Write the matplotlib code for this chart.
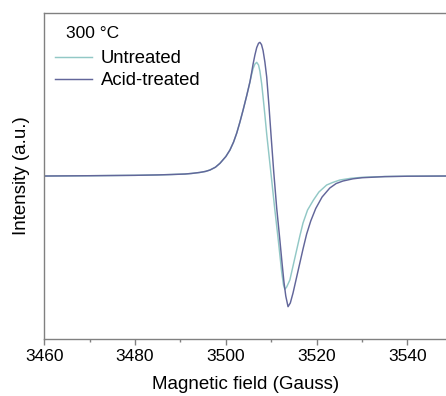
import matplotlib
matplotlib.use("Agg")
import matplotlib.pyplot as plt
from matplotlib.ticker import MultipleLocator

plt.rcParams["font.family"] = ["Liberation Sans", "DejaVu Sans"]

# field (Gauss) and intensity (a.u.)
field_untreated = [3460, 3470, 3480, 3485, 3488, 3491, 3492.5, 3494.3, 3495.5, 3496.5,
                   3497.7, 3498.7, 3500.0,
                   3500.9, 3501.7, 3502.4, 3503.1, 3503.8, 3504.6, 3505.3, 3505.7,
                   3506.0, 3506.4, 3506.8, 3507.2, 3507.5, 3507.9, 3508.2, 3508.6,
                   3509.0, 3509.5, 3510.0, 3510.75, 3511.5, 3512.3, 3512.7, 3513.0,
                   3513.4, 3514.1, 3514.8, 3515.6, 3516.3, 3517.0, 3518.0, 3519.3,
                   3520.5, 3522.2, 3523.5, 3525.1, 3527.5, 3530, 3535, 3540, 3548.5]
int_untreated = [0, 0.3, 0.7, 1.1, 1.5, 2.0, 2.6, 3.6, 4.6, 6.0,
                 8.8, 12.7, 19.5,
                 26, 34, 43, 54, 66, 80.5, 94, 102,
                 107.5, 112, 113.7, 111, 105, 92, 79, 61,
                 42, 21, 0, -32, -62, -96, -109, -113.3,
                 -111, -104, -90, -74, -60, -47, -34, -24,
                 -16, -9, -6.5, -4, -2.3, -1.3, -0.5, -0.2, 0]

field_acid = [3460, 3470, 3480, 3485, 3488, 3491, 3492.5, 3494.3, 3495.5, 3496.5,
              3497.7, 3498.7, 3500.0,
              3500.9, 3501.7, 3502.4, 3503.1, 3503.8, 3504.6, 3505.3, 3505.7,
              3506.0, 3506.4, 3506.8, 3507.2, 3507.5, 3507.85, 3508.2, 3508.6,
              3509.0, 3509.5, 3510.0, 3510.55, 3511.2, 3511.9, 3512.4, 3512.8,
              3513.2, 3513.7, 3514.2, 3514.8, 3515.6, 3516.3, 3517.0, 3517.8,
              3518.7, 3519.8, 3521.2, 3522.9, 3524.3, 3525.8, 3528, 3530, 3535,
              3540, 3548.5]
int_acid = [0, 0.3, 0.7, 1.1, 1.5, 2.0, 2.6, 3.6, 4.6, 6.0,
            8.8, 12.7, 19.5,
            26, 34, 43, 54, 66, 80.5, 94, 104,
            112, 121, 128.5, 132.8, 133.7, 131.5, 125.5, 114,
            99, 70, 38, 4, -32, -64, -88, -106,
            -120, -130.7, -127, -117, -101, -87, -73, -58,
            -45, -32.5, -21, -12, -7.5, -5, -2.8, -1.7, -0.6,
            -0.2, 0]

fig = plt.figure(figsize=(4.46, 3.96), dpi=100)
ax = fig.add_axes([0.0993, 0.144, 0.9007, 0.823])

ax.plot(field_untreated, int_untreated, color="#92c8c6", lw=1.05,
        solid_joinstyle="round", label="Untreated")
ax.plot(field_acid, int_acid, color="#62669a", lw=1.05,
        solid_joinstyle="round", label="Acid-treated")

ax.set_xlim(3460, 3548.5)
ax.set_ylim(-163, 163)
ax.xaxis.set_major_locator(MultipleLocator(20))
ax.xaxis.set_minor_locator(MultipleLocator(10))
ax.set_yticks([])
ax.tick_params(axis="x", which="major", length=4.5, width=1, color="#808080",
               labelsize=12.5, pad=3)
ax.tick_params(axis="x", which="minor", length=2.5, width=1, color="#808080")
for s in ax.spines.values():
    s.set_color("#808080")
    s.set_linewidth(1.0)
ax.spines["right"].set_visible(False)

ax.set_xlabel("Magnetic field (Gauss)", fontsize=13.5, labelpad=8)
ax.set_ylabel("Intensity (a.u.)", fontsize=13.5, labelpad=10)

ax.text(0.055, 0.96, "300 °C", transform=ax.transAxes, fontsize=12.5,
        va="top", ha="left")
ax.legend(loc="upper left", bbox_to_anchor=(-0.006, 0.925), frameon=False,
          fontsize=13.3, handlelength=2.0, handletextpad=0.5,
          labelspacing=0.25, borderaxespad=0.3)

fig.savefig("out.png", dpi=100)
